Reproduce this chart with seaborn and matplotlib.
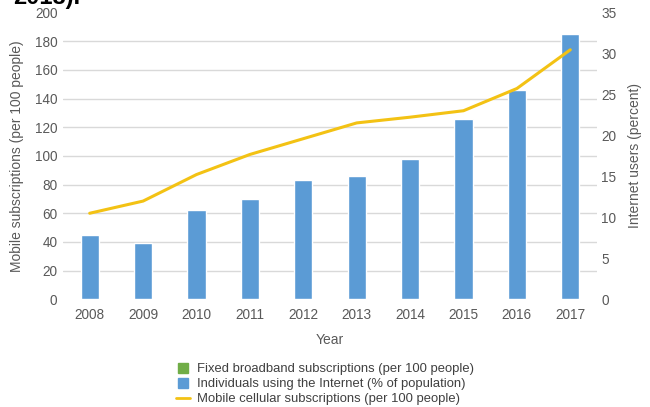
import matplotlib
matplotlib.use("Agg")
import matplotlib.pyplot as plt
from matplotlib.lines import Line2D
import numpy as np
import pandas as pd
import seaborn as sns

years = ["2008", "2009", "2010", "2011", "2012", "2013", "2014", "2015", "2016", "2017"]
internet_users = [7.9, 6.9, 10.9, 12.3, 14.5, 15.0, 17.1, 22.0, 25.5, 32.4]
mobile_subs = [60, 68.5, 87, 101, 112, 123, 127, 131.5, 147, 174]

left_ticks = [0, 20, 40, 60, 80, 100, 120, 140, 160, 180, 200]
right_ticks = [0, 5, 10, 15, 20, 25, 30, 35]

df = pd.DataFrame({"year": years, "internet": internet_users, "mobile": mobile_subs})

sns.set_theme(style="white")
plt.rcParams["font.family"] = ["Liberation Sans", "DejaVu Sans"]

BLUE = "#5b9bd5"
GREEN = "#70ad47"
YELLOW = "#f3c214"
GRAY = "#595959"
GRID = "#d9d9d9"

fig = plt.figure(figsize=(6.5, 4.07), dpi=100)
ax = fig.add_axes([63 / 650, 1 - 299.3 / 407, 534 / 650, (299.3 - 12.5) / 407])

# bars: Internet users (right scale)
sns.barplot(data=df, x="year", y="internet", color=BLUE, saturation=1,
            width=0.34, ax=ax, zorder=2)

# line: Mobile subscriptions (left scale)
axL = ax.twinx()
sns.pointplot(data=df, x="year", y="mobile", color=YELLOW, markers="",
              linestyles="-", errorbar=None, linewidth=2.2, ax=axL)

ax.set_ylim(0, 35)
ax.yaxis.tick_right()
ax.yaxis.set_label_position("right")
ax.set_yticks(right_ticks)
ax.set_yticks(np.linspace(0, 35, len(left_ticks)), minor=True)
ax.grid(which="major", axis="both", visible=False)
ax.grid(which="minor", axis="y", color=GRID, linewidth=1.0)
ax.set_axisbelow(True)
ax.tick_params(which="minor", length=0)
ax.tick_params(axis="y", which="major", length=0, pad=3, labelcolor=GRAY, labelsize=9.8)
ax.tick_params(axis="x", length=0, pad=6, labelcolor=GRAY, labelsize=9.8)
ax.set_ylabel("Internet users (percent)", color=GRAY, fontsize=10, labelpad=8)
ax.set_xlabel("Year", color=GRAY, fontsize=10, labelpad=8)
for s in ax.spines.values():
    s.set_visible(False)

axL.set_ylim(0, 200)
axL.yaxis.tick_left()
axL.yaxis.set_label_position("left")
axL.set_yticks(left_ticks)
axL.tick_params(axis="y", length=0, pad=4, labelcolor=GRAY, labelsize=9.8)
axL.set_ylabel("Mobile subscriptions (per 100 people)", color=GRAY, fontsize=10, labelpad=8)
axL.set_xlim(-0.5, len(years) - 0.5)
ax.set_xlim(-0.5, len(years) - 0.5)
axL.grid(False)
for s in axL.spines.values():
    s.set_visible(False)

handles = [
    Line2D([], [], marker="s", linestyle="", color=GREEN, markersize=6.5),
    Line2D([], [], marker="s", linestyle="", color=BLUE, markersize=6.5),
    Line2D([], [], color=YELLOW, linewidth=2),
]
labels = [
    "Fixed broadband subscriptions (per 100 people)",
    "Individuals using the Internet (% of population)",
    "Mobile cellular subscriptions (per 100 people)",
]
fig.legend(handles, labels, loc="upper left", bbox_to_anchor=(176 / 650, 1 - 363 / 407),
           frameon=False, fontsize=9.4, labelcolor="#404040", handlelength=1.1,
           handletextpad=0.5, labelspacing=0.22, borderpad=0, borderaxespad=0)

fig.text(13 / 650, 1 - 4 / 407, "2018).", fontsize=17, color="black",
         family="Liberation Sans", fontweight="bold", va="baseline")

fig.savefig("out.png", dpi=100)
